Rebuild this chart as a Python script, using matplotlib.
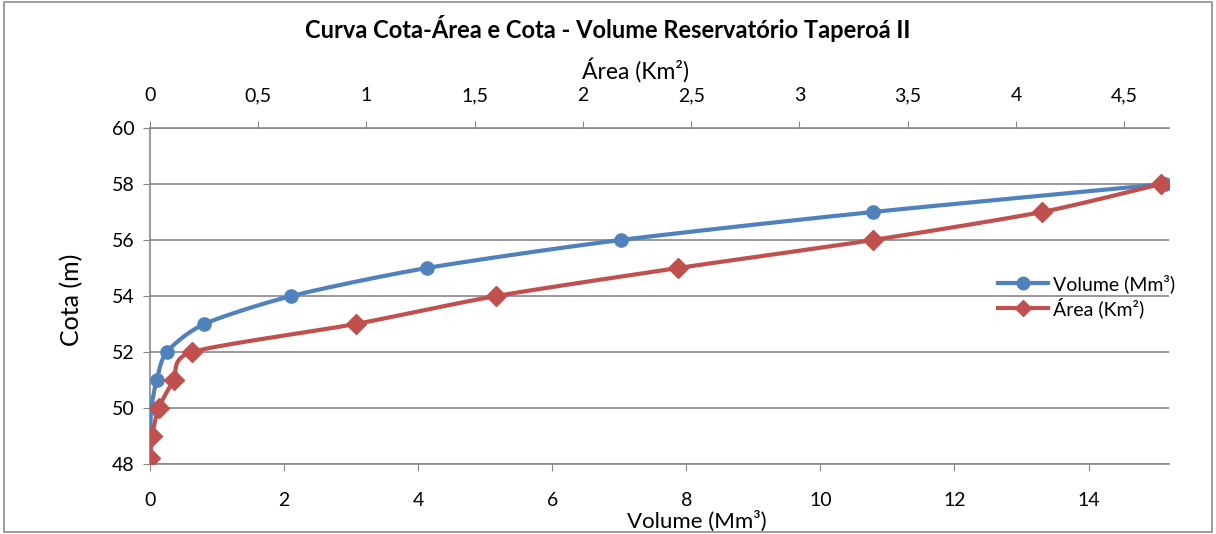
import numpy as np
import matplotlib
matplotlib.use("Agg")
import matplotlib.pyplot as plt
from matplotlib.lines import Line2D
from matplotlib.patches import Rectangle

plt.rcParams['font.family'] = ['Lato', 'DejaVu Sans']

# ---- data ----
cota_vol = [49, 50, 51, 52, 53, 54, 55, 56, 57, 58]
volume = [0.0, 0.02, 0.10, 0.25, 0.81, 2.11, 4.13, 7.02, 10.78, 15.14]
cota_area = [48.2, 49, 50, 51, 52, 53, 54, 55, 56, 57, 58]
area = [0.0, 0.01, 0.04, 0.11, 0.195, 0.95, 1.60, 2.44, 3.34, 4.12, 4.67]

vol_ticks = [0, 2, 4, 6, 8, 10, 12, 14]
area_ticks = [0, 0.5, 1, 1.5, 2, 2.5, 3, 3.5, 4, 4.5]
area_ticklabels = ["0", "0,5", "1", "1,5", "2", "2,5", "3", "3,5", "4", "4,5"]
cota_ticks = [48, 50, 52, 54, 56, 58, 60]

title = "Curva Cota-Área e Cota - Volume Reservatório Taperoá II"
xlabel_bottom = "Volume (Mm³)"
xlabel_top = "Área (Km²)"
ylabel = "Cota (m)"
label_vol = "Volume (Mm³)"
label_area = "Área (Km²)"

BLUE = "#4F81BD"
RED = "#C0504D"
GRID = "#878787"

W, H = 1216, 534
fig = plt.figure(figsize=(W / 100, H / 100), dpi=100)
L, R, T, B = 150, 1169, 128, 464
ax = fig.add_axes([L / W, 1 - B / H, (R - L) / W, (B - T) / H])
ax2 = ax.twiny()

XV = (0, 15.2)
XA = (0, 4.707)
YL = (48, 60)


def smooth(xs, ys, xlim, n=30, k=8.0):
    # Bezier smoothing in screen-proportional space (like Excel smoothed line)
    sx = (R - L) / (xlim[1] - xlim[0])
    sy = (B - T) / (YL[1] - YL[0])
    P = np.column_stack([np.asarray(xs) * sx, np.asarray(ys) * sy])
    out = [P[0]]
    for i in range(len(P) - 1):
        p0 = P[i - 1] if i > 0 else P[i]
        p1, p2 = P[i], P[i + 1]
        p3 = P[i + 2] if i + 2 < len(P) else P[i + 1]
        c1 = p1 + (p2 - p0) / k
        c2 = p2 - (p3 - p1) / k
        t = np.linspace(0, 1, n)[1:, None]
        seg = ((1 - t) ** 3) * p1 + 3 * ((1 - t) ** 2) * t * c1 + 3 * (1 - t) * t ** 2 * c2 + t ** 3 * p2
        out.extend(seg)
    out = np.array(out)
    return out[:, 0] / sx, out[:, 1] / sy


LW = 3.0
vx, vy = smooth(volume, cota_vol, XV)
ax.plot(vx, vy, color=BLUE, lw=LW, solid_capstyle='round', zorder=3)
ax.plot(volume, cota_vol, 'o', color=BLUE, ms=9.5, zorder=4)

axx, axy = smooth(area, cota_area, XA)
ax2.plot(axx, axy, color=RED, lw=LW, solid_capstyle='round', zorder=3)
ax2.plot(area, cota_area, 'D', color=RED, ms=10, zorder=4)

ax.set_xlim(*XV)
ax2.set_xlim(*XA)
ax.set_ylim(*YL)

ax.set_xticks(vol_ticks)
ax.set_xticklabels([str(v) for v in vol_ticks])
ax2.set_xticks(area_ticks)
ax2.set_xticklabels(area_ticklabels)
ax.set_yticks(cota_ticks)

for a in (ax, ax2):
    for s in a.spines.values():
        s.set_visible(False)
ax.spines['left'].set_visible(True)
ax.spines['left'].set_color(GRID)
ax.spines['bottom'].set_visible(True)
ax.spines['bottom'].set_color(GRID)
ax2.spines['top'].set_visible(True)
ax2.spines['top'].set_color(GRID)
for s in ('left', 'bottom'):
    ax.spines[s].set_linewidth(1.2)
ax2.spines['top'].set_linewidth(1.2)

ax.yaxis.grid(True, color=GRID, lw=1.2)
ax.set_axisbelow(True)

TS = 14
ax.tick_params(axis='x', direction='out', length=5, color=GRID, labelsize=TS, pad=15)
ax.tick_params(axis='y', direction='out', length=5, color=GRID, labelsize=TS, pad=6)
ax2.tick_params(axis='x', direction='out', length=5, color=GRID, labelsize=TS, pad=12)

fig.text(608 / W, 1 - 28 / H, title, ha='center', va='center', fontsize=17, fontweight='bold')
fig.text(635 / W, 1 - 70 / H, xlabel_top, ha='center', va='center', fontsize=16.5)
fig.text(697 / W, 1 - 521 / H, xlabel_bottom, ha='center', va='center', fontsize=16)
fig.text(72 / W, 1 - 300 / H, ylabel, ha='center', va='center', fontsize=18, rotation=90)

handles = [Line2D([], [], color=BLUE, lw=LW, marker='o', ms=9),
           Line2D([], [], color=RED, lw=LW, marker='D', ms=8)]
leg = fig.legend(handles, [label_vol, label_area], loc='center left',
                 bbox_to_anchor=(988 / W, 1 - 296 / H), frameon=False,
                 fontsize=14, handlelength=2.6, handletextpad=0.25, labelspacing=0.2,
                 borderpad=0)

fig.patches.append(Rectangle((4 / W, 2 / H), 1 - 8 / W, 1 - 4 / H, transform=fig.transFigure,
                             fill=False, edgecolor='#8c8c8c', lw=1.2))

fig.savefig("out.png", dpi=100)
